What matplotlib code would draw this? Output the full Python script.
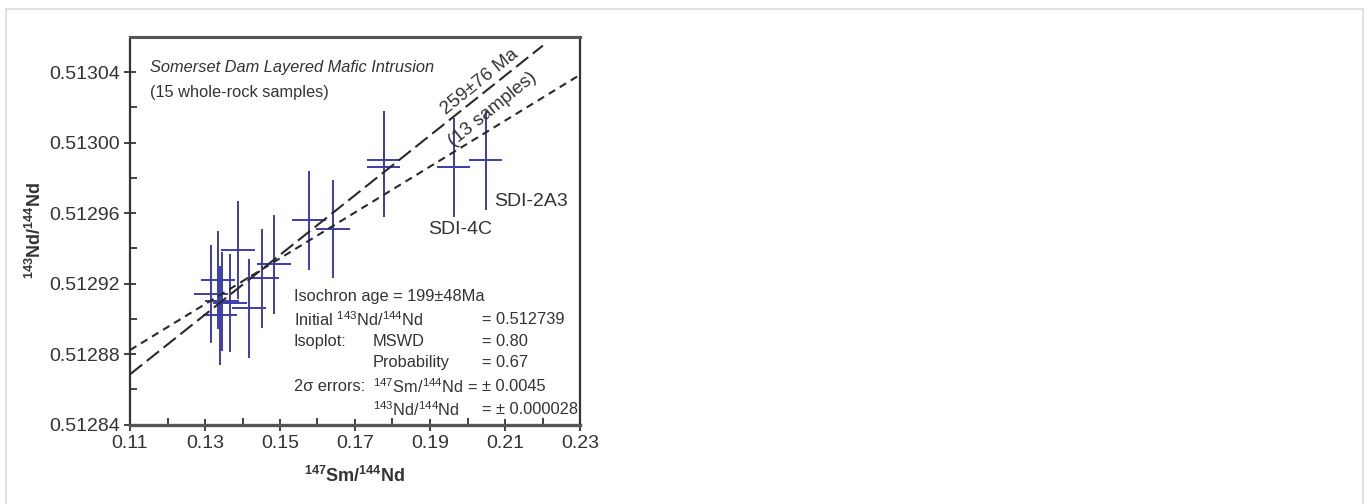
import numpy as np
import matplotlib
matplotlib.use("Agg")
import matplotlib.pyplot as plt
from matplotlib.lines import Line2D
from matplotlib.ticker import FixedLocator, FormatStrFormatter

plt.rcParams["font.family"] = ["Liberation Sans", "DejaVu Sans"]
plt.rcParams["mathtext.fontset"] = "custom"
plt.rcParams["mathtext.rm"] = "Liberation Sans"
plt.rcParams["mathtext.it"] = "Liberation Sans:italic"
plt.rcParams["mathtext.bf"] = "Liberation Sans:bold"

# whole-rock Sm-Nd data, Somerset Dam
sm_nd = [0.1315, 0.1335, 0.1340, 0.1345, 0.1366, 0.1388, 0.1417, 0.1453,
         0.1485, 0.1577, 0.1642, 0.1776, 0.1776, 0.1963, 0.2048]
nd_nd = [0.512914, 0.512922, 0.512902, 0.512910, 0.512909, 0.512939, 0.512906, 0.512923,
         0.512931, 0.512956, 0.512951, 0.512990, 0.512986, 0.512986, 0.512990]
sm_err = 0.0045
nd_err = 0.000028

x_ticks = [0.11, 0.13, 0.15, 0.17, 0.19, 0.21, 0.23]
x_minor = [0.12, 0.14, 0.16, 0.18, 0.20, 0.22]
y_ticks = [0.51284, 0.51288, 0.51292, 0.51296, 0.51300, 0.51304]
y_minor = [0.51286, 0.51290, 0.51294, 0.51298, 0.51302, 0.51306]

# isochrons: (age Ma, initial 143Nd/144Nd, x end)
lam = 6.54e-12
iso_all = (199, 0.512739, 0.23)
iso_13 = (259, 0.512682, 0.2201)

TXT = "#333333"
BLUE = "#3d3dac"

fig = plt.figure(figsize=(13.69, 5.04), dpi=100)
ax = fig.add_axes([130 / 1369, 1 - 424.5 / 504, 450 / 1369, 387.5 / 504])

ax.errorbar(sm_nd, nd_nd, xerr=sm_err, yerr=nd_err, fmt="none",
            ecolor=BLUE, elinewidth=1.4, capsize=0, zorder=3)

for (age, init, xend), dash in [(iso_all, (3.6, 2.6)), (iso_13, (7.5, 2.8))]:
    slope = np.exp(lam * age * 1e6) - 1
    xx = np.array([0.11, xend])
    ax.plot(xx, init + slope * xx, color="#2a2a2a", lw=1.5, dashes=dash, zorder=4)

ax.set_xlim(0.11, 0.23)
ax.set_ylim(0.51284, 0.51306)
ax.xaxis.set_major_locator(FixedLocator(x_ticks))
ax.xaxis.set_minor_locator(FixedLocator(x_minor))
ax.yaxis.set_major_locator(FixedLocator(y_ticks))
ax.yaxis.set_minor_locator(FixedLocator(y_minor))
ax.xaxis.set_major_formatter(FormatStrFormatter("%.2f"))
ax.yaxis.set_major_formatter(FormatStrFormatter("%.5f"))
ax.tick_params(which="major", direction="inout", length=9, width=1.2,
               labelsize=14, labelcolor=TXT, color="#222222", pad=3)
ax.tick_params(which="minor", direction="in", length=5, width=1.2, color="#222222")
for s in ax.spines.values():
    s.set_color("#333333")
    s.set_linewidth(1.6)
ax.spines["bottom"].set_linewidth(2.4)
ax.spines["bottom"].set_color("#555555")
ax.spines["top"].set_linewidth(2.2)
ax.spines["top"].set_color("#555555")

ax.set_xlabel(r"$^{\mathbf{147}}$Sm/$^{\mathbf{144}}$Nd", fontsize=13, fontweight="bold",
              color=TXT, labelpad=10)
ax.set_ylabel(r"$^{\mathbf{143}}$Nd/$^{\mathbf{144}}$Nd", fontsize=13, fontweight="bold",
              color=TXT, labelpad=3)

fs = 11.8
ax.text(0.1153, 0.5130428, "Somerset Dam Layered Mafic Intrusion", fontsize=fs,
        style="italic", color=TXT, va="center")
ax.text(0.1153, 0.5130286, "(15 whole-rock samples)", fontsize=fs, color=TXT, va="center")

ax.text(0.2033, 0.5130343, "259±76 Ma", fontsize=13.5, color=TXT, rotation=39,
        ha="center", va="center", rotation_mode="anchor")
ax.text(0.2068, 0.5130189, "(13 samples)", fontsize=13.5, color=TXT, rotation=39,
        ha="center", va="center", rotation_mode="anchor")

ax.text(0.1980, 0.5129506, "SDI-4C", fontsize=14, color=TXT, ha="center", va="center")
ax.text(0.2169, 0.5129667, "SDI-2A3", fontsize=14, color=TXT, ha="center", va="center")

# isochron summary block
c1, c2, c3 = 0.1537, 0.1747, 0.2038
rows = [0.5129125, 0.5128997, 0.5128873, 0.5128750, 0.5128617, 0.5128485]
ax.text(c1, rows[0], "Isochron age = 199±48Ma", fontsize=fs, color=TXT, va="center")
ax.text(c1, rows[1], r"Initial $^{\mathrm{143}}$Nd/$^{\mathrm{144}}$Nd", fontsize=fs, color=TXT, va="center")
ax.text(c3, rows[1], "= 0.512739", fontsize=fs, color=TXT, va="center")
ax.text(c1, rows[2], "Isoplot:", fontsize=fs, color=TXT, va="center")
ax.text(c2, rows[2], "MSWD", fontsize=fs, color=TXT, va="center")
ax.text(c3, rows[2], "= 0.80", fontsize=fs, color=TXT, va="center")
ax.text(c2, rows[3], "Probability", fontsize=fs, color=TXT, va="center")
ax.text(c3, rows[3], "= 0.67", fontsize=fs, color=TXT, va="center")
ax.text(c1, rows[4], "2σ errors:", fontsize=fs, color=TXT, va="center")
ax.text(c2, rows[4], r"$^{\mathrm{147}}$Sm/$^{\mathrm{144}}$Nd =", fontsize=fs, color=TXT, va="center")
ax.text(c3, rows[4], "± 0.0045", fontsize=fs, color=TXT, va="center")
ax.text(c2, rows[5], r"$^{\mathrm{143}}$Nd/$^{\mathrm{144}}$Nd", fontsize=fs, color=TXT, va="center")
ax.text(c3, rows[5], "= ± 0.000028", fontsize=fs, color=TXT, va="center")

# thin frame around the figure
W, H = 1369, 504
frame = dict(color="#dddddd", lw=1.2, transform=fig.transFigure)
fig.add_artist(Line2D([6 / W, 6 / W], [0, 1 - 9 / H], **frame))
fig.add_artist(Line2D([6 / W, 1363 / W], [1 - 9 / H, 1 - 9 / H], **frame))
fig.add_artist(Line2D([1363 / W, 1363 / W], [0, 1 - 9 / H], **frame))

fig.savefig("out.png", dpi=100)
